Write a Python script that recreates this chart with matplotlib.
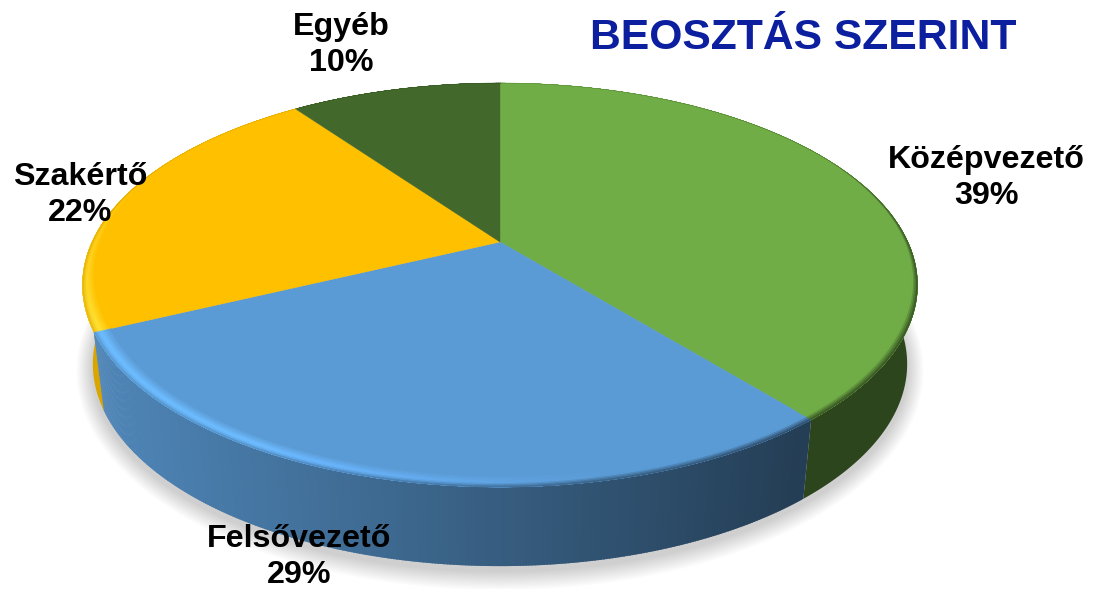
import numpy as np
import matplotlib
matplotlib.use("Agg")
import matplotlib.pyplot as plt
from matplotlib.collections import PolyCollection
from matplotlib.colors import to_rgb

labels = ["Középvezető", "Felsővezető", "Szakértő", "Egyéb"]
values = [39, 29, 22, 10]
colors = ["#70ad47", "#5b9bd5", "#ffc000", "#43682b"]
title = "BEOSZTÁS SZERINT"

label_pos = [(986, 178), (299, 557), (80, 195), (341, 45)]

# look of the tilted disc, in picture pixels
CX, CY = 500, 242
RX, RY = 408, 192.9
PERSP = 0.213
DEPTH = 79
TAPER = 0.975
STEP = 0.006


def project(theta, r=1.0):
    # theta runs clockwise from the top of the disc
    u = r * np.sin(theta)
    v = r * np.cos(theta)
    w = 1 + PERSP * v
    return CX + RX * u / w, CY - RY * v / w


def lower(x, y):
    return CX + (x - CX) * TAPER, y + DEPTH


def side_shade(x):
    return np.interp(x, [100, 500, 800], [0.86, 0.6, 0.4])


fig = plt.figure(figsize=(10.93, 5.89), dpi=100)
ax = fig.add_axes([0, 0, 1, 1])
ax.set_xlim(0, 1093)
ax.set_ylim(589, 0)
ax.axis("off")

fractions = np.array(values) / sum(values)
edges = np.concatenate([[0], np.cumsum(fractions)]) * 2 * np.pi

# soft shadow under the disc
ring = np.linspace(0, 2 * np.pi, 400)
sx, sy = lower(*project(ring))
scx, scy = sx.mean(), sy.mean()
for grow in np.linspace(17, 1, 16):
    ax.fill(scx + (sx - scx) * (1 + grow / 420), scy + 5 + (sy - scy) * (1 + grow / 200),
            color="black", alpha=0.011, lw=0, zorder=1)

# side wall: slices at the far ends are flat, the front one is shaded in strips
side_polys, side_cols = [], []
for i in range(len(values)):
    base = np.array(to_rgb(colors[i]))
    steps = max(int((edges[i + 1] - edges[i]) / STEP), 2)
    th = np.linspace(edges[i], edges[i + 1], steps + 1)
    front = th[np.cos(th) < 0.35]
    if len(front) < 2:
        continue
    x, y = project(front)
    if x.min() > 700 or x.max() < 300:
        xl, yl = lower(x, y)
        front_x, _ = project(front[np.argmin(np.cos(front))])
        ax.fill(np.r_[x, xl[::-1]], np.r_[y, yl[::-1]], color=base * side_shade(front_x),
                lw=0, zorder=2)
        continue
    for a, b in zip(front[:-1], front[1:]):
        xa, ya = project(a)
        xb, yb = project(b + STEP * 0.6)
        xc, yc = lower(xb, yb)
        xd, yd = lower(xa, ya)
        side_polys.append([(xa, ya), (xb, yb), (xc, yc), (xd, yd)])
        side_cols.append(base * side_shade((xa + xb) / 2))
ax.add_collection(PolyCollection(side_polys, facecolors=side_cols, edgecolors="none", zorder=2.5))

# top face
for i in range(len(values)):
    th = np.linspace(edges[i], edges[i + 1], 300)
    x, y = project(th)
    ax.fill(np.r_[CX, x], np.r_[CY, y], color=colors[i], lw=0.3, zorder=3)

# bevel along the rim: highlight towards the left, dark towards the right
prof = np.linspace(0, 1, 10)
for k in range(len(prof) - 1):
    bevel_polys, bevel_cols = [], []
    for i in range(len(values)):
        base = np.array(to_rgb(colors[i]))
        steps = max(int((edges[i + 1] - edges[i]) / STEP), 2)
        th = np.linspace(edges[i], edges[i + 1], steps + 1)
        for a, b in zip(th[:-1], th[1:]):
            mid = (a + b) / 2
            vis = np.clip((0.45 - np.cos(mid)) / 0.9, 0, 1)
            width = 0.004 + 0.036 * vis
            lit = np.clip(-np.sin(mid) * 1.4 + 0.3, 0, 1) * vis
            xm, _ = project(mid)
            dark = base * side_shade(xm)
            light = np.minimum(base + np.array([0.07, 0.13, 0.2]) * lit, 1)
            t = prof[k]
            if t < 0.55:
                col = base + (light - base) * (t / 0.55)
            else:
                # on the lit side the rim stays bright almost to the wall
                col = light + (dark - light) * ((t - 0.55) / 0.45) ** (1 + lit)
            r0 = 1 - width * (1 - t)
            xa, ya = project(a, r0)
            xb, yb = project(b + STEP * 0.6, r0)
            xc, yc = project(b + STEP * 0.6, 1.0)
            xd, yd = project(a, 1.0)
            bevel_polys.append([(xa, ya), (xb, yb), (xc, yc), (xd, yd)])
            bevel_cols.append(col)
    ax.add_collection(PolyCollection(bevel_polys, facecolors=bevel_cols, edgecolors="none",
                                     zorder=4 + k * 0.01))

for name, val, (lx, ly) in zip(labels, values, label_pos):
    ax.text(lx, ly, f"{name}\n{val}%", ha="center", va="center", fontsize=23.2,
            fontweight="bold", family="Liberation Sans", color="black", linespacing=1.3, zorder=6)

ax.text(803, 38, title, ha="center", va="center", fontsize=30.7, fontweight="bold",
        family="Liberation Sans", color="#0b1f9f", zorder=6)

fig.savefig("out.png", dpi=100, facecolor="white")
